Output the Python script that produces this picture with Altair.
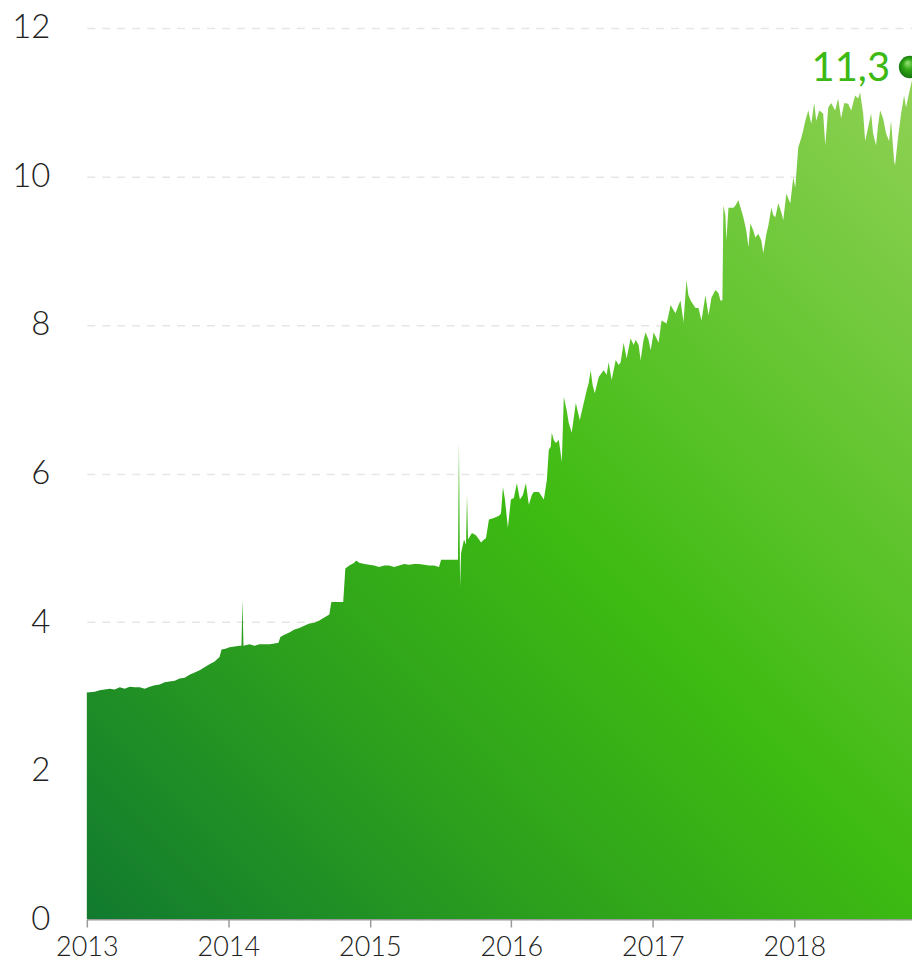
import altair as alt
import pandas as pd

# decimal year of each observation
years = [
    2013.000, 2013.056, 2013.092, 2013.127, 2013.162, 2013.197, 2013.233, 2013.268, 2013.303, 2013.339,
    2013.374, 2013.409, 2013.444, 2013.480, 2013.515, 2013.550, 2013.585, 2013.621, 2013.656, 2013.691,
    2013.726, 2013.762, 2013.797, 2013.832, 2013.867, 2013.903, 2013.938, 2013.952, 2013.980, 2014.008,
    2014.044, 2014.079, 2014.093, 2014.100, 2014.107, 2014.150, 2014.185, 2014.220, 2014.255, 2014.291,
    2014.326, 2014.354, 2014.368, 2014.396, 2014.432, 2014.467, 2014.502, 2014.537, 2014.573, 2014.608,
    2014.643, 2014.678, 2014.714, 2014.728, 2014.770, 2014.812, 2014.827, 2014.855, 2014.890, 2014.904,
    2014.925, 2014.961, 2014.996, 2015.031, 2015.066, 2015.102, 2015.137, 2015.172, 2015.207, 2015.243,
    2015.278, 2015.313, 2015.348, 2015.384, 2015.419, 2015.454, 2015.489, 2015.504, 2015.560, 2015.616,
    2015.623, 2015.630, 2015.638, 2015.645, 2015.666, 2015.680, 2015.687, 2015.694, 2015.722, 2015.750,
    2015.772, 2015.786, 2015.807, 2015.821, 2015.842, 2015.877, 2015.913, 2015.927, 2015.941, 2015.955,
    2015.976, 2015.997, 2016.018, 2016.039, 2016.061, 2016.082, 2016.103, 2016.124, 2016.145, 2016.159,
    2016.195, 2016.230, 2016.251, 2016.265, 2016.279, 2016.286, 2016.300, 2016.315, 2016.336, 2016.357,
    2016.371, 2016.392, 2016.406, 2016.427, 2016.456, 2016.484, 2016.512, 2016.533, 2016.547, 2016.561,
    2016.575, 2016.590, 2016.618, 2016.653, 2016.674, 2016.688, 2016.709, 2016.738, 2016.759, 2016.773,
    2016.794, 2016.815, 2016.843, 2016.865, 2016.879, 2016.900, 2016.914, 2016.935, 2016.949, 2016.970,
    2016.985, 2017.006, 2017.027, 2017.041, 2017.062, 2017.097, 2017.111, 2017.126, 2017.147, 2017.161,
    2017.182, 2017.196, 2017.217, 2017.238, 2017.252, 2017.267, 2017.288, 2017.302, 2017.323, 2017.344,
    2017.372, 2017.394, 2017.415, 2017.443, 2017.464, 2017.478, 2017.492, 2017.499, 2017.513, 2017.520,
    2017.535, 2017.570, 2017.584, 2017.605, 2017.640, 2017.661, 2017.676, 2017.690, 2017.711, 2017.725,
    2017.746, 2017.767, 2017.781, 2017.803, 2017.817, 2017.838, 2017.852, 2017.866, 2017.887, 2017.908,
    2017.922, 2017.944, 2017.958, 2017.972, 2017.993, 2018.007, 2018.028, 2018.049, 2018.063, 2018.078,
    2018.099, 2018.120, 2018.141, 2018.155, 2018.176, 2018.204, 2018.219, 2018.240, 2018.261, 2018.289,
    2018.310, 2018.331, 2018.353, 2018.381, 2018.402, 2018.430, 2018.451, 2018.465, 2018.487, 2018.501,
    2018.522, 2018.543, 2018.557, 2018.578, 2018.592, 2018.607, 2018.628, 2018.649, 2018.670, 2018.684,
    2018.705, 2018.712, 2018.733, 2018.755, 2018.776, 2018.790, 2018.811, 2018.832,
]

values = [
    3.05, 3.06, 3.08, 3.09, 3.10, 3.09, 3.12, 3.10, 3.13, 3.12,
    3.12, 3.10, 3.13, 3.15, 3.16, 3.19, 3.20, 3.21, 3.24, 3.25,
    3.29, 3.32, 3.35, 3.39, 3.43, 3.47, 3.53, 3.63, 3.64, 3.66,
    3.67, 3.68, 3.68, 4.30, 3.68, 3.70, 3.68, 3.70, 3.70, 3.70,
    3.71, 3.72, 3.80, 3.83, 3.86, 3.90, 3.92, 3.95, 3.98, 3.99,
    4.02, 4.06, 4.10, 4.27, 4.27, 4.27, 4.72, 4.76, 4.80, 4.83,
    4.80, 4.78, 4.77, 4.76, 4.74, 4.76, 4.76, 4.74, 4.76, 4.78,
    4.77, 4.78, 4.78, 4.77, 4.76, 4.76, 4.74, 4.84, 4.84, 4.84,
    4.84, 6.42, 4.48, 4.93, 5.11, 5.04, 5.71, 5.11, 5.20, 5.17,
    5.11, 5.07, 5.11, 5.13, 5.38, 5.40, 5.43, 5.46, 5.82, 5.65,
    5.27, 5.65, 5.67, 5.87, 5.65, 5.71, 5.87, 5.58, 5.71, 5.75,
    5.75, 5.65, 5.91, 6.32, 6.36, 6.55, 6.45, 6.41, 6.45, 6.16,
    7.03, 6.85, 6.68, 6.55, 6.95, 6.72, 6.95, 7.12, 7.22, 7.39,
    7.19, 7.08, 7.30, 7.39, 7.33, 7.50, 7.26, 7.53, 7.46, 7.50,
    7.76, 7.55, 7.82, 7.73, 7.80, 7.73, 7.53, 7.80, 7.90, 7.80,
    7.66, 7.90, 7.82, 7.76, 8.06, 8.02, 8.13, 8.27, 8.20, 8.16,
    8.27, 8.33, 8.04, 8.60, 8.40, 8.33, 8.27, 8.23, 8.23, 8.06,
    8.40, 8.13, 8.37, 8.47, 8.43, 8.33, 8.33, 9.61, 9.48, 9.14,
    9.58, 9.58, 9.61, 9.68, 9.45, 9.27, 9.05, 9.37, 9.27, 9.18,
    9.23, 9.14, 8.97, 9.23, 9.34, 9.58, 9.48, 9.45, 9.64, 9.52,
    9.41, 9.77, 9.70, 9.64, 9.99, 9.85, 10.39, 10.52, 10.62, 10.75,
    10.89, 10.71, 10.99, 10.75, 10.89, 10.85, 10.42, 10.93, 10.99, 10.89,
    11.05, 10.78, 10.99, 10.98, 10.89, 11.09, 11.05, 11.13, 10.85, 10.48,
    10.66, 10.85, 10.58, 10.42, 10.69, 10.89, 10.78, 10.58, 10.48, 10.75,
    10.22, 10.15, 10.52, 10.85, 11.09, 10.93, 11.12, 11.30,
]

y_ticks = [0, 2, 4, 6, 8, 10, 12]
x_ticks = [2013, 2014, 2015, 2016, 2017, 2018]

df = pd.DataFrame({"year": years, "value": values})
last = pd.DataFrame({
    "year": [years[-1]],
    "value": [values[-1]],
    "label": [f"{values[-1]:.1f}".replace(".", ",")],
})

x_scale = alt.Scale(domain=[years[0], years[-1]], nice=False, zero=False)
y_scale = alt.Scale(domain=[0, 12], nice=False)

fill = alt.Gradient(
    gradient="linear",
    stops=[
        alt.GradientStop(color="#117a2f", offset=0),
        alt.GradientStop(color="#2ea21c", offset=0.3),
        alt.GradientStop(color="#3ebb12", offset=0.52),
        alt.GradientStop(color="#8fd154", offset=1),
    ],
    x1=0, y1=1, x2=1, y2=0,
)

area = alt.Chart(df).mark_area(color=fill, interpolate="linear").encode(
    x=alt.X("year:Q", scale=x_scale,
            axis=alt.Axis(values=x_ticks, format="d", title=None, grid=False,
                          domain=True, domainColor="#9a9a9a", domainWidth=2,
                          ticks=True, tickColor="#9a9a9a", tickSize=8, tickWidth=1.5,
                          labelFlush=False, labelOverlap=False,
                          labelFont="Lato", labelFontSize=27, labelFontWeight=300,
                          labelColor="#222222", labelPadding=8)),
    y=alt.Y("value:Q", scale=y_scale,
            axis=alt.Axis(values=y_ticks, format="d", title=None, grid=True,
                          gridColor="#e6e6e6", gridDash=[8, 7], gridWidth=1.5,
                          domain=False, ticks=False, labelFlush=False,
                          labelFont="Lato", labelFontSize=33, labelFontWeight=300,
                          labelColor="#222222", labelPadding=37)),
)

ball = alt.Chart(last).mark_point(
    filled=True, size=500, opacity=1,
    fill=alt.Gradient(
        gradient="radial",
        stops=[
            alt.GradientStop(color="#9be87a", offset=0),
            alt.GradientStop(color="#2fa614", offset=0.45),
            alt.GradientStop(color="#11700f", offset=1),
        ],
        x1=0.38, y1=0.3, r1=0, x2=0.5, y2=0.5, r2=0.55,
    ),
    yOffset=-13, xOffset=-2,
).encode(x=alt.X("year:Q", scale=x_scale), y=alt.Y("value:Q", scale=y_scale))

label = alt.Chart(last).mark_text(
    align="right", baseline="middle", dx=-22, dy=-11,
    font="Lato", fontSize=40, color="#3cb912",
).encode(x=alt.X("year:Q", scale=x_scale), y=alt.Y("value:Q", scale=y_scale),
         text="label:N")

chart = alt.layer(area, ball, label).properties(
    width=827, height=893,
    autosize=alt.AutoSizeParams(type="none"),
    padding={"left": 79, "top": 19, "right": 0, "bottom": 44},
).configure_view(stroke=None)

chart.save("out.html", embed_options={"renderer": "svg", "actions": False})
